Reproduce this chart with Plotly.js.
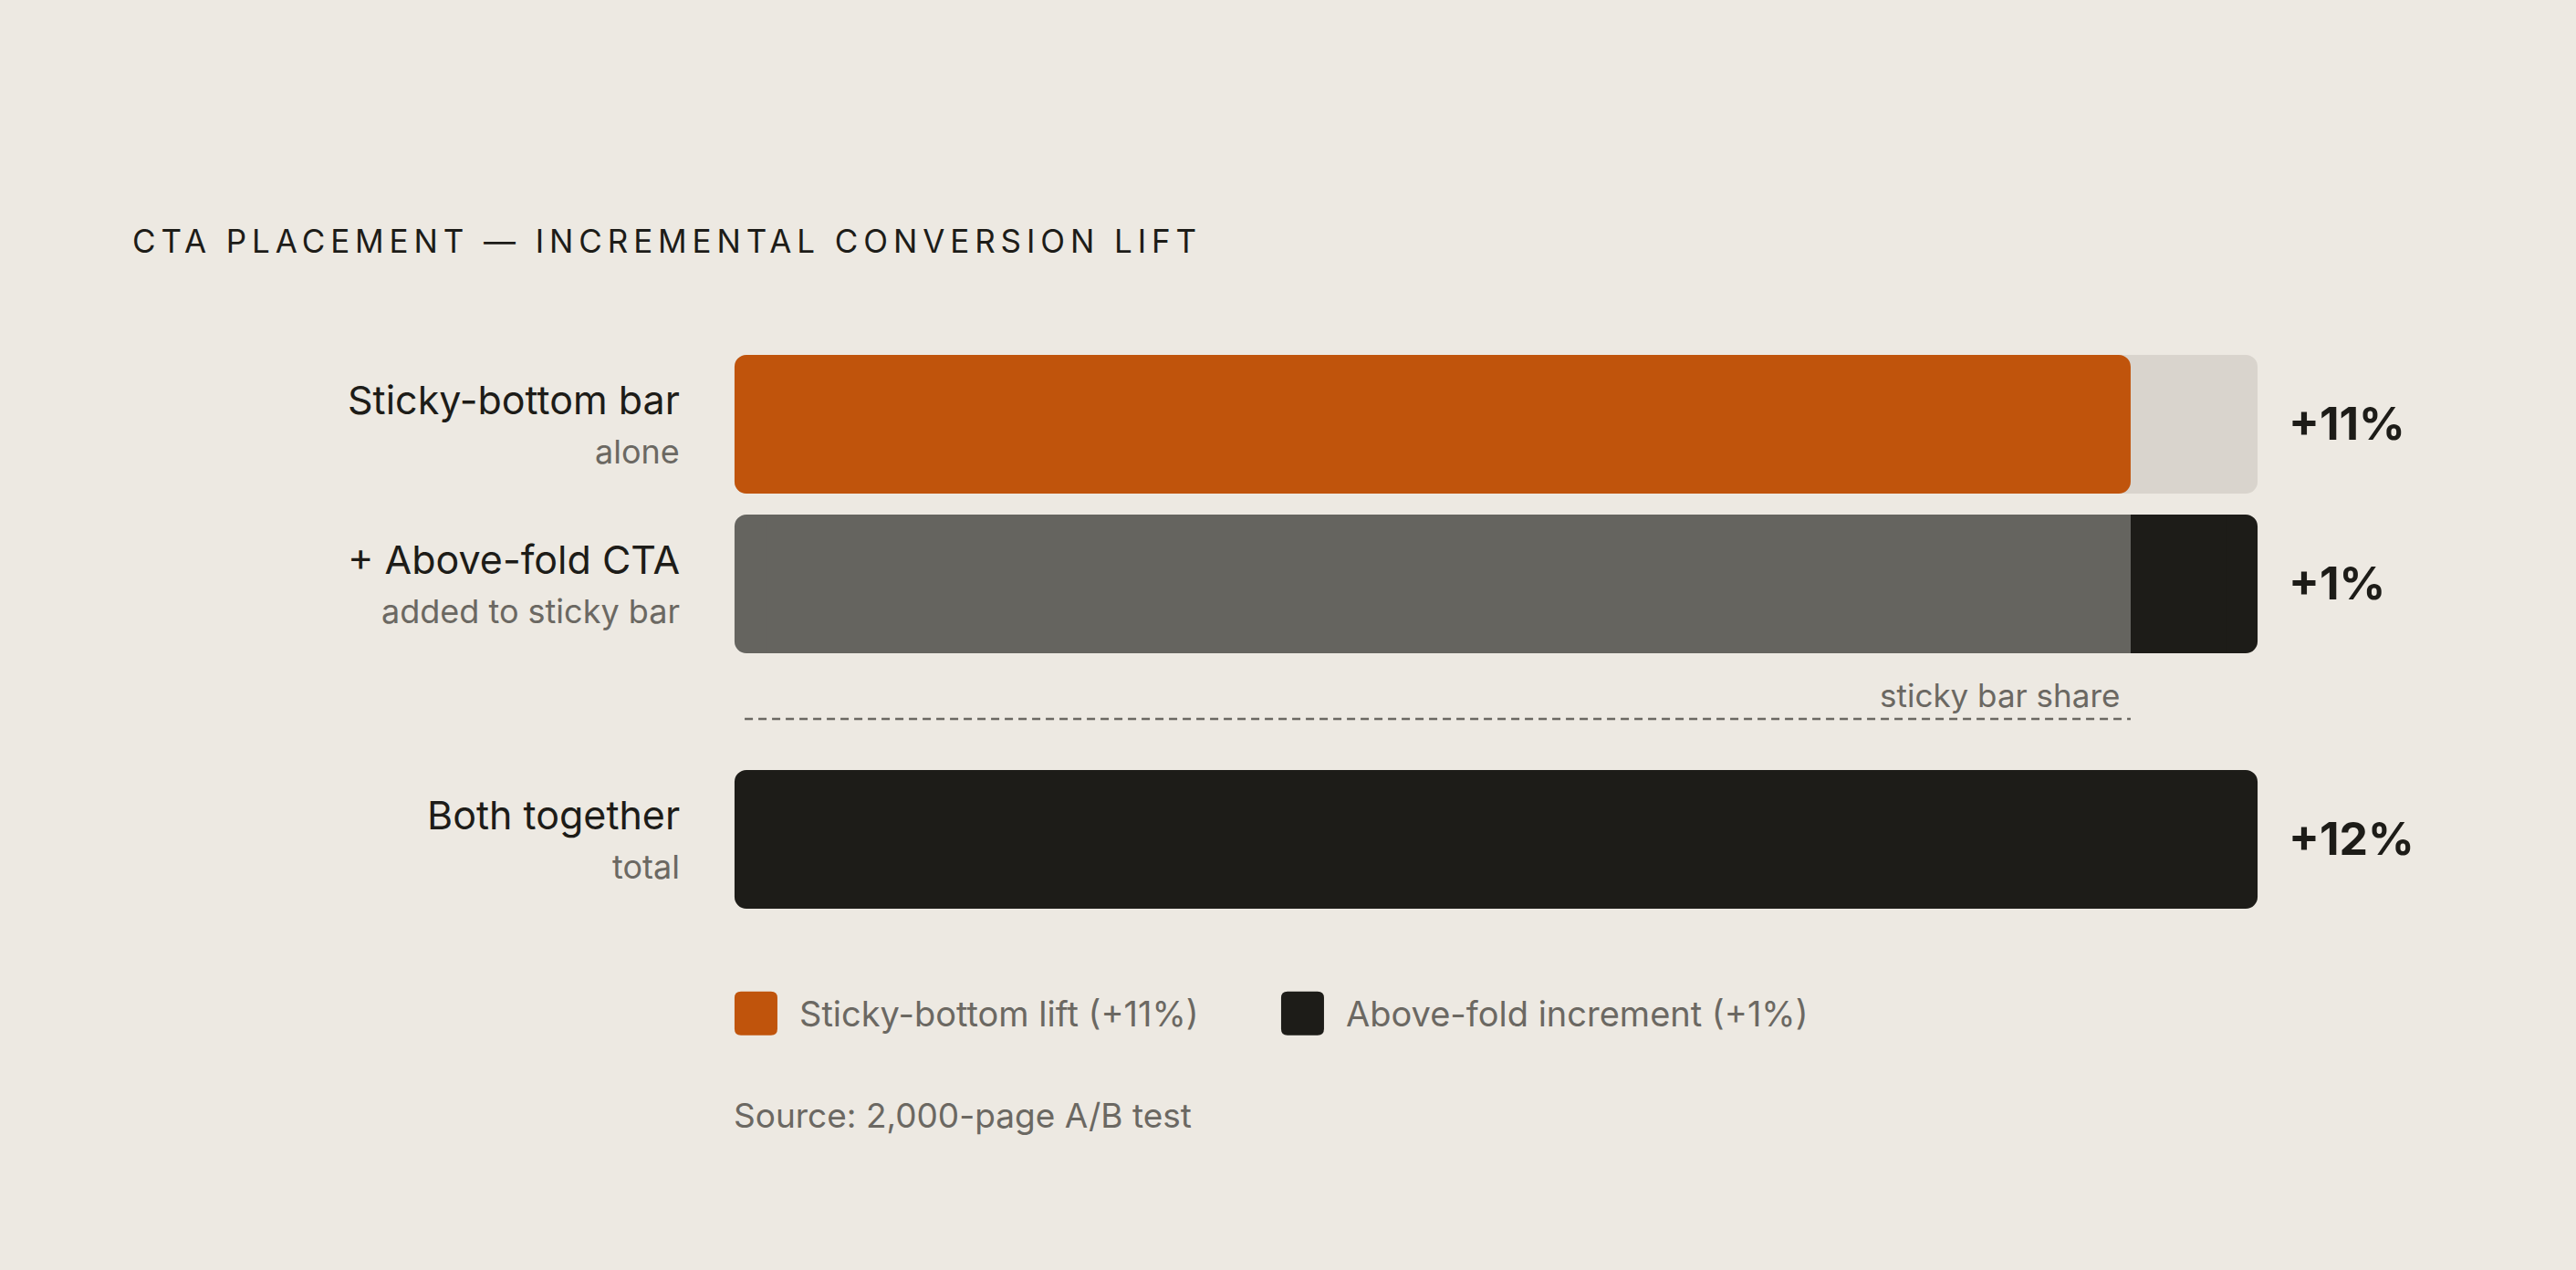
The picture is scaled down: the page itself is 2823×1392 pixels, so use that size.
<!DOCTYPE html>
<html>
<head>
<meta charset="utf-8">
<script src="https://cdn.plot.ly/plotly-3.0.1.min.js"></script>
<style>
  html, body { margin: 0; padding: 0; background: #EDE9E2; }
  #chart { width: 2823px; height: 1392px; }
  #chart .gtitle { letter-spacing: 5.9px; }
</style>
</head>
<body>
<div id="chart"></div>
<script>
// data
const rowLabels = ['Sticky-bottom bar', '+ Above-fold CTA', 'Both together'];
const rowNotes = ['alone', 'added to sticky bar', 'total'];
const lift = [11, 1, 12];          // sticky alone, above-fold increment, both together
const legendLabels = ['Sticky-bottom lift (+11%)', 'Above-fold increment (+1%)'];
const sourceNote = 'Source: 2,000-page A/B test';

// look
const bg = '#EDE9E2', ink = '#1D1C18', muted = '#6B6862';
const orange = '#C0540C', track = '#D9D4CD', share = '#65645F';
const font = 'Inter, "DejaVu Sans", sans-serif';
const rowY = [0, 1, 2.6];
const barW = 152 / 175;            // keeps bar edges on whole pixels
const radius = 13;
const cap = 0.25;

const sticky = lift[0], extra = lift[1], total = lift[2];

// a bar with a base gets all four corners rounded; for a bar rounded on
// one side only, a short rounded cap sits under a square-cornered body
let traces = [];
function piece(y, from, to, color, r) {
    traces.push({
        type: 'bar', orientation: 'h',
        y: [y], x: [to - from], base: [from], width: barW,
        marker: {color: color, cornerradius: r, line: {width: 0}},
        hoverinfo: 'skip', showlegend: false
    });
}
function bar(y, from, to, color, ends) {
    if (ends === 'left') {
        piece(y, from, from + 2 * cap, color, radius);
        piece(y, from + cap, to, color, 0);
    } else if (ends === 'right') {
        piece(y, to - 2 * cap, to, color, radius);
        piece(y, from, to - cap, color, 0);
    } else {
        piece(y, from, to, color, radius);
    }
}

bar(rowY[0], 0, total, track, 'both');
bar(rowY[0], 0, sticky, orange, 'both');
bar(rowY[1], 0, sticky, share, 'left');
bar(rowY[1], sticky, sticky + extra, ink, 'right');
bar(rowY[2], 0, total, ink, 'both');

let annotations = [];
rowLabels.forEach((t, i) => {
    annotations.push({
        x: 0, y: rowY[i], xref: 'x', yref: 'y', text: t, showarrow: false,
        xanchor: 'right', yanchor: 'middle', xshift: -58, yshift: 27,
        font: {family: font, size: 43, color: ink}
    });
    annotations.push({
        x: 0, y: rowY[i], xref: 'x', yref: 'y', text: rowNotes[i], showarrow: false,
        xanchor: 'right', yanchor: 'middle', xshift: -58, yshift: -30,
        font: {family: font, size: 36, color: muted}
    });
    annotations.push({
        x: total, y: rowY[i], xref: 'x', yref: 'y', text: '+' + lift[i] + '%', showarrow: false,
        xanchor: 'left', yanchor: 'middle', xshift: 32, yshift: 1,
        font: {family: font, size: 50, color: ink, weight: 700}
    });
});

annotations.push({
    x: sticky, y: 1.697, xref: 'x', yref: 'y', text: 'sticky bar share', showarrow: false,
    xanchor: 'right', yanchor: 'middle', xshift: -10,
    font: {family: font, size: 35, color: muted}
});

// legend, drawn by hand so the keys can be large rounded squares
const legendY = -0.129;
const keyX = [0, 599];
const keyColors = [orange, ink];
function roundedSquare(x0, w, h, r) {
    let x1 = x0 + w, y0 = -h / 2, y1 = h / 2;
    return 'M' + (x0 + r) + ',' + y0 + ' H' + (x1 - r) + ' Q' + x1 + ',' + y0 + ' ' + x1 + ',' + (y0 + r) +
        ' V' + (y1 - r) + ' Q' + x1 + ',' + y1 + ' ' + (x1 - r) + ',' + y1 +
        ' H' + (x0 + r) + ' Q' + x0 + ',' + y1 + ' ' + x0 + ',' + (y1 - r) +
        ' V' + (y0 + r) + ' Q' + x0 + ',' + y0 + ' ' + (x0 + r) + ',' + y0 + ' Z';
}
let shapes = [{
    type: 'line', xref: 'x', yref: 'y', x0: 0.08, x1: sticky, y0: 1.846, y1: 1.846,
    line: {color: muted, width: 2.5, dash: '9px,6px'}
}];
legendLabels.forEach((t, i) => {
    shapes.push({
        type: 'path', xref: 'x', yref: 'paper', xsizemode: 'pixel', ysizemode: 'pixel',
        xanchor: 0, yanchor: legendY, path: roundedSquare(keyX[i], 47, 48, 7),
        fillcolor: keyColors[i], line: {width: 0}
    });
    annotations.push({
        x: 0, y: legendY, xref: 'x', yref: 'paper', text: t, showarrow: false,
        xanchor: 'left', yanchor: 'middle', xshift: keyX[i] + 69,
        font: {family: font, size: 38, color: muted}
    });
});
annotations.push({
    x: 0, y: -0.297, xref: 'x', yref: 'paper', text: sourceNote, showarrow: false,
    xanchor: 'left', yanchor: 'middle', xshift: -3,
    font: {family: font, size: 37, color: muted}
});

const layout = {
    width: 2823, height: 1392,
    paper_bgcolor: bg, plot_bgcolor: bg,
    margin: {l: 798, r: 342, t: 360, b: 367},
    title: {
        text: 'CTA PLACEMENT — INCREMENTAL CONVERSION LIFT',
        x: 0.0514, xanchor: 'left', xref: 'container',
        y: 0.81, yanchor: 'middle', yref: 'container',
        font: {family: font, size: 35, color: ink}
    },
    barmode: 'overlay',
    showlegend: false,
    xaxis: {range: [-0.05, 12.05], visible: false, fixedrange: true},
    yaxis: {range: [3.2, -0.6], visible: false, fixedrange: true},
    shapes: shapes,
    annotations: annotations
};

Plotly.newPlot('chart', traces, layout, {displayModeBar: false, staticPlot: true});
</script>
</body>
</html>
